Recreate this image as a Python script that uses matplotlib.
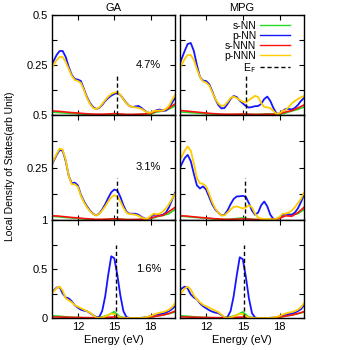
import matplotlib
matplotlib.use("Agg")
import matplotlib.pyplot as plt
from matplotlib.ticker import MultipleLocator

plt.rcParams['font.family'] = ['Liberation Sans', 'DejaVu Sans']

# energy grids (eV)
E = [9.75, 10.0, 10.25, 10.5, 10.75, 11.0, 11.25, 11.5, 11.75, 12.0,
     12.25, 12.5, 12.75, 13.0, 13.25, 13.5, 13.75, 14.0, 14.25, 14.5,
     14.75, 15.0, 15.25, 15.5, 15.75, 16.0, 16.25, 16.5, 16.75, 17.0,
     17.25, 17.5, 17.75, 18.0, 18.25, 18.5, 18.75, 19.0, 19.25, 19.5,
     19.75, 20.0]
ES = [9.5, 10.0, 10.5, 11.0, 11.5, 12.0, 12.5, 13.0, 13.5, 14.0, 14.5,
      15.0, 15.5, 16.0, 16.5, 17.0, 17.5, 18.0, 18.5, 19.0, 19.5, 20.0]

# ---- GA 4.7% ----
ga47_pnn = [0.24, 0.27, 0.30, 0.32, 0.32, 0.29, 0.24, 0.20, 0.18, 0.177,
            0.17, 0.13, 0.09, 0.06, 0.04, 0.03, 0.035, 0.05, 0.07, 0.085,
            0.097, 0.105, 0.11, 0.10, 0.08, 0.06, 0.045, 0.04, 0.043, 0.045,
            0.035, 0.022, 0.012, 0.01, 0.018, 0.025, 0.027, 0.022, 0.022, 0.035,
            0.06, 0.085]
ga47_pnnn = [0.225, 0.25, 0.275, 0.29, 0.29, 0.265, 0.23, 0.195, 0.175, 0.17,
             0.16, 0.125, 0.085, 0.055, 0.035, 0.03, 0.037, 0.055, 0.075, 0.092,
             0.105, 0.112, 0.115, 0.10, 0.078, 0.058, 0.045, 0.04, 0.038, 0.035,
             0.03, 0.02, 0.012, 0.012, 0.02, 0.022, 0.022, 0.022, 0.03, 0.045,
             0.075, 0.10]
ga47_snn = [0.015, 0.014, 0.012, 0.01, 0.008, 0.006, 0.004, 0.003, 0.002, 0.002, 0.003,
            0.004, 0.003, 0.002, 0.002, 0.003, 0.004, 0.006, 0.015, 0.02, 0.03, 0.045]
ga47_snnn = [0.022, 0.02, 0.018, 0.015, 0.012, 0.01, 0.007, 0.005, 0.004, 0.004, 0.005,
             0.007, 0.005, 0.003, 0.003, 0.004, 0.005, 0.008, 0.02, 0.022, 0.035, 0.055]

# ---- MPG 4.7% ----
mpg47_pnn = [0.24, 0.28, 0.32, 0.355, 0.36, 0.32, 0.25, 0.19, 0.172, 0.17,
             0.155, 0.12, 0.08, 0.05, 0.033, 0.035, 0.055, 0.08, 0.095, 0.09,
             0.072, 0.058, 0.045, 0.037, 0.04, 0.044, 0.045, 0.055, 0.08, 0.092,
             0.07, 0.035, 0.008, 0.006, 0.02, 0.03, 0.03, 0.028, 0.035, 0.05,
             0.07, 0.085]
mpg47_pnnn = [0.22, 0.25, 0.28, 0.30, 0.30, 0.275, 0.23, 0.19, 0.168, 0.162,
              0.148, 0.115, 0.08, 0.058, 0.045, 0.048, 0.065, 0.085, 0.092, 0.085,
              0.075, 0.066, 0.062, 0.075, 0.085, 0.096, 0.09, 0.06, 0.04, 0.038,
              0.035, 0.02, 0.006, 0.008, 0.02, 0.025, 0.04, 0.058, 0.07, 0.08,
              0.088, 0.095]
mpg47_snn = [0.016, 0.015, 0.013, 0.011, 0.009, 0.007, 0.005, 0.003, 0.002, 0.002, 0.003,
             0.004, 0.003, 0.003, 0.004, 0.006, 0.005, 0.004, 0.01, 0.02, 0.028, 0.04]
mpg47_snnn = [0.025, 0.022, 0.019, 0.016, 0.013, 0.01, 0.007, 0.005, 0.004, 0.004, 0.004,
              0.005, 0.004, 0.003, 0.003, 0.004, 0.004, 0.006, 0.015, 0.022, 0.035, 0.05]

# ---- GA 3.1% ----
ga31_pnn = [0.25, 0.28, 0.31, 0.333, 0.33, 0.28, 0.21, 0.175, 0.178, 0.165,
            0.12, 0.09, 0.065, 0.045, 0.03, 0.022, 0.03, 0.05, 0.075, 0.105,
            0.132, 0.145, 0.14, 0.11, 0.07, 0.04, 0.03, 0.03, 0.03, 0.025,
            0.015, 0.007, 0.005, 0.015, 0.025, 0.025, 0.022, 0.025, 0.035, 0.06,
            0.095, 0.13]
ga31_pnnn = [0.25, 0.285, 0.315, 0.34, 0.335, 0.285, 0.21, 0.17, 0.17, 0.158,
             0.115, 0.085, 0.06, 0.042, 0.028, 0.022, 0.028, 0.045, 0.065, 0.088,
             0.108, 0.118, 0.112, 0.088, 0.058, 0.036, 0.028, 0.027, 0.025, 0.02,
             0.012, 0.006, 0.006, 0.02, 0.03, 0.028, 0.03, 0.04, 0.055, 0.075,
             0.10, 0.125]
ga31_snn = [0.018, 0.017, 0.015, 0.012, 0.01, 0.008, 0.005, 0.003, 0.002, 0.002, 0.004,
            0.006, 0.003, 0.002, 0.002, 0.002, 0.003, 0.006, 0.015, 0.022, 0.03, 0.05]
ga31_snnn = [0.022, 0.02, 0.018, 0.015, 0.012, 0.01, 0.007, 0.005, 0.003, 0.003, 0.004,
             0.006, 0.004, 0.002, 0.002, 0.003, 0.004, 0.008, 0.018, 0.022, 0.04, 0.06]

# ---- MPG 3.1% ----
mpg31_pnn = [0.235, 0.265, 0.295, 0.31, 0.28, 0.22, 0.165, 0.15, 0.16, 0.145,
             0.11, 0.075, 0.05, 0.035, 0.022, 0.025, 0.045, 0.075, 0.10, 0.112,
             0.113, 0.115, 0.11, 0.08, 0.045, 0.025, 0.035, 0.07, 0.088, 0.065,
             0.025, 0.005, 0.003, 0.01, 0.025, 0.03, 0.025, 0.025, 0.035, 0.055,
             0.085, 0.12]
mpg31_pnnn = [0.28, 0.30, 0.33, 0.35, 0.33, 0.27, 0.20, 0.175, 0.172, 0.16,
              0.125, 0.085, 0.055, 0.035, 0.022, 0.022, 0.035, 0.05, 0.062, 0.065,
              0.06, 0.055, 0.06, 0.07, 0.06, 0.03, 0.012, 0.006, 0.005, 0.005,
              0.004, 0.003, 0.005, 0.015, 0.03, 0.03, 0.035, 0.045, 0.06, 0.08,
              0.10, 0.13]
mpg31_snn = [0.02, 0.018, 0.016, 0.013, 0.011, 0.009, 0.006, 0.004, 0.003, 0.004, 0.007,
             0.01, 0.005, 0.003, 0.002, 0.002, 0.004, 0.01, 0.03, 0.025, 0.03, 0.05]
mpg31_snnn = [0.022, 0.02, 0.018, 0.015, 0.012, 0.01, 0.007, 0.005, 0.003, 0.003, 0.004,
              0.005, 0.004, 0.002, 0.002, 0.003, 0.004, 0.008, 0.02, 0.018, 0.035, 0.06]

# ---- GA 1.6% ----
ga16_pnn = [0.25, 0.28, 0.31, 0.315, 0.25, 0.21, 0.20, 0.17, 0.13, 0.105,
            0.085, 0.075, 0.07, 0.05, 0.03, 0.01, 0.01, 0.07, 0.22, 0.44,
            0.63, 0.61, 0.44, 0.23, 0.07, 0.01, 0.0, 0.0, 0.0, 0.0,
            0.002, 0.005, 0.01, 0.02, 0.03, 0.035, 0.04, 0.045, 0.055, 0.07,
            0.09, 0.12]
ga16_pnnn = [0.24, 0.27, 0.305, 0.32, 0.28, 0.20, 0.18, 0.16, 0.13, 0.115,
             0.10, 0.085, 0.07, 0.055, 0.03, 0.005, 0.002, 0.005, 0.015, 0.03,
             0.045, 0.04, 0.02, 0.005, 0.0, 0.0, 0.0, 0.0, 0.0, 0.0,
             0.002, 0.005, 0.012, 0.02, 0.035, 0.045, 0.055, 0.06, 0.07, 0.085,
             0.11, 0.15]
ga16_snn = [0.025, 0.022, 0.018, 0.012, 0.008, 0.005, 0.003, 0.002, 0.002, 0.01, 0.03,
            0.065, 0.008, 0.002, 0.0, 0.0, 0.002, 0.008, 0.02, 0.03, 0.045, 0.06]
ga16_snnn = [0.012, 0.011, 0.01, 0.008, 0.006, 0.005, 0.004, 0.003, 0.003, 0.004, 0.007,
             0.01, 0.004, 0.002, 0.001, 0.001, 0.003, 0.01, 0.02, 0.03, 0.045, 0.07]

# ---- MPG 1.6% ----
mpg16_pnn = [0.27, 0.30, 0.32, 0.30, 0.24, 0.21, 0.19, 0.15, 0.12, 0.10,
             0.08, 0.065, 0.055, 0.05, 0.03, 0.005, 0.01, 0.07, 0.22, 0.43,
             0.62, 0.60, 0.42, 0.20, 0.05, 0.005, 0.0, 0.0, 0.0, 0.0,
             0.002, 0.003, 0.008, 0.015, 0.025, 0.035, 0.04, 0.045, 0.055, 0.07,
             0.09, 0.13]
mpg16_pnnn = [0.22, 0.26, 0.30, 0.32, 0.29, 0.23, 0.19, 0.16, 0.135, 0.12,
              0.105, 0.09, 0.075, 0.06, 0.035, 0.008, 0.002, 0.005, 0.015, 0.03,
              0.042, 0.038, 0.02, 0.005, 0.0, 0.0, 0.0, 0.0, 0.0, 0.0,
              0.002, 0.005, 0.012, 0.02, 0.035, 0.045, 0.055, 0.06, 0.07, 0.085,
              0.11, 0.15]
mpg16_snn = [0.025, 0.022, 0.018, 0.012, 0.008, 0.005, 0.003, 0.002, 0.002, 0.01, 0.03,
             0.062, 0.008, 0.002, 0.0, 0.0, 0.002, 0.008, 0.02, 0.03, 0.045, 0.06]
mpg16_snnn = [0.012, 0.011, 0.01, 0.008, 0.006, 0.005, 0.004, 0.003, 0.003, 0.004, 0.007,
              0.01, 0.004, 0.002, 0.001, 0.001, 0.003, 0.01, 0.02, 0.03, 0.045, 0.065]

# Fermi level marker (energy, top of dashed line) per panel
ef_energy = [[15.2, 15.3], [15.2, 15.2], [15.1, 15.1]]
ef_top = [[0.2, 0.2], [0.2, 0.2], [0.75, 0.75]]

row_labels = ["4.7%", "3.1%", "1.6%"]
col_titles = ["GA", "MPG"]
ymax = [0.5, 0.5, 1.0]

panels = [
    [(ga47_snn, ga47_pnn, ga47_snnn, ga47_pnnn), (mpg47_snn, mpg47_pnn, mpg47_snnn, mpg47_pnnn)],
    [(ga31_snn, ga31_pnn, ga31_snnn, ga31_pnnn), (mpg31_snn, mpg31_pnn, mpg31_snnn, mpg31_pnnn)],
    [(ga16_snn, ga16_pnn, ga16_snnn, ga16_pnnn), (mpg16_snn, mpg16_pnn, mpg16_snnn, mpg16_pnnn)],
]

c_snn = "#22dd22"
c_pnn = "#1515ff"
c_snnn = "#ff1010"
c_pnnn = "#ffcc00"

fig = plt.figure(figsize=(3.5, 3.5), dpi=100)

col_x = [52 / 350, 180 / 350]
col_w = [123 / 350, 124 / 350]
row_y = [1 - 115 / 350, 1 - 220 / 350, 1 - 318 / 350]
row_h = [100 / 350, 105 / 350, 98 / 350]

for r in range(3):
    for c in range(2):
        ax = fig.add_axes([col_x[c], row_y[r], col_w[c], row_h[r]])
        snn, pnn, snnn, pnnn = panels[r][c]
        ax.plot(ES, snn, color=c_snn, lw=1.2, label="s-NN")
        ax.plot(E, pnn, color=c_pnn, lw=1.3, label="p-NN")
        ax.plot(ES, snnn, color=c_snnn, lw=1.2, label="s-NNN")
        ax.plot(E, pnnn, color=c_pnnn, lw=1.3, label="p-NNN")
        ax.plot([ef_energy[r][c], ef_energy[r][c]], [0, ef_top[r][c]],
                color="k", ls=(0, (3, 2)), lw=1.0, label="E$_\\mathrm{F}$")
        ax.set_xlim(9.87, 20.0)
        ax.set_ylim(0, ymax[r])
        ax.set_xticks([12, 15, 18])
        if r == 2:
            ax.set_yticks([0, 0.5, 1.0])
            ax.set_yticklabels(["0", "0.5", "1"])
            ax.yaxis.set_minor_locator(MultipleLocator(0.25))
        else:
            ax.set_yticks([0.25, 0.5])
            ax.set_yticklabels(["0.25", "0.5"])
            ax.yaxis.set_minor_locator(MultipleLocator(0.125))
        ax.tick_params(which="both", direction="in", top=True, right=True,
                       labelsize=8, length=3.5, width=0.8, pad=3)
        if c == 1:
            ax.set_yticklabels([])
        if r < 2:
            ax.set_xticklabels([])
        else:
            ax.set_xlabel("Energy (eV)", fontsize=8, labelpad=2)
        if r == 0:
            ax.set_title(col_titles[c], fontsize=8, pad=3)
        if c == 0:
            ax.text(17.8, ymax[r] / 2, row_labels[r], fontsize=8,
                    ha="center", va="center")
        for s in ax.spines.values():
            s.set_linewidth(1.0)
        if r == 0 and c == 1:
            leg = ax.legend(loc="upper right", frameon=False, markerfirst=False,
                            fontsize=7.5, handlelength=2.8, labelspacing=0.0,
                            handletextpad=0.4, borderaxespad=0.15,
                            bbox_to_anchor=(0.93, 1.0))
            for h in leg.get_lines():
                h.set_linewidth(1.0)

fig.text(0.03, 1 - 166 / 350, "Local Density of States(arb Unit)",
         rotation=90, ha="center", va="center", fontsize=7.5)

fig.savefig("out.png", dpi=100)
